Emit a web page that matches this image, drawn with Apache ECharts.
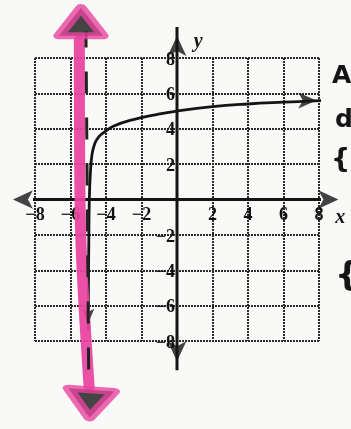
<!DOCTYPE html>
<html><head><meta charset="utf-8">
<script src="https://cdn.jsdelivr.net/npm/echarts@6/dist/echarts.min.js"></script>
<style>html,body{margin:0;padding:0;background:#f9f9f8;}#c{width:351px;height:429px;}</style>
</head><body><div id="c"></div>
<script>
// ---- data ----
const tickValues = [-8, -6, -4, -2, 0, 2, 4, 6, 8];
const curveX = [-5.0, -4.99, -4.97, -4.94, -4.88, -4.78, -4.62, -4.4, -4.15, -3.59, -2.46, -1.14, 0, 2, 4, 6, 8.3];
const curveY = [-7.4, -5, -2.5, 0, 1.5, 2.6, 3.2, 3.55, 3.77, 4.14, 4.52, 4.8, 5.0, 5.25, 5.4, 5.5, 5.6];
const asymptoteX = [-5.13, -4.97];
const asymptoteY = [9.5, -10.6];
const highlightX = [-5.5, -5.45, -4.95];
const highlightY = [9.0, -1, -10.6];
const highlightHeadX = [-5.41, -4.88];
const highlightHeadY = [10.05, -11.55];
const xAxisEnds = [-9.75, 9.6];
const yAxisEnds = [9.75, -9.65];
const axisNames = ['x', 'y'];
const sideNotes = ['A', 'd', '{', '{'];

const fmt = v => String(v).replace('-', '\u2212');
const chart = echarts.init(document.getElementById('c'));
const ink = '#151515';
const pink = '#e8449f';
const lblFont = {fontFamily: 'Liberation Serif', fontSize: 18, color: '#111', fontWeight: 'bold',
                 textBorderWidth: 0, textShadowBlur: 0, opacity: 1};
const nonZero = tickValues.filter(v => v !== 0);
const hidden = {color: 'rgba(0,0,0,0)'};

chart.setOption({
  animation: false,
  backgroundColor: '#f9f9f8',
  grid: {left: 35, right: 32, top: 58, bottom: 88},
  xAxis: {
    type: 'value', min: tickValues[0], max: tickValues[tickValues.length - 1], interval: 2,
    axisLine: {show: false}, axisTick: {show: false}, axisLabel: {show: false},
    splitLine: {show: true, lineStyle: {color: '#2b2b2b', width: 2, type: [2, 1]}}
  },
  yAxis: {
    type: 'value', min: tickValues[0], max: tickValues[tickValues.length - 1], interval: 2,
    axisLine: {show: false}, axisTick: {show: false}, axisLabel: {show: false},
    splitLine: {show: true, lineStyle: {color: '#2b2b2b', width: 2, type: [2, 1]}}
  },
  graphic: [
    {type: 'text', left: 332, top: 64, style: {text: sideNotes[0], font: 'bold 25px "DejaVu Sans"', fill: ink}},
    {type: 'text', left: 335, top: 108, style: {text: sideNotes[1], font: 'bold 25px "DejaVu Sans"', fill: ink}},
    {type: 'text', left: 331, top: 146, style: {text: sideNotes[2], font: 'bold 27px "DejaVu Sans"', fill: ink}},
    {type: 'text', left: 335, top: 260, style: {text: sideNotes[3], font: 'bold 34px "DejaVu Sans"', fill: ink}}
  ],
  series: [
    {type: 'line', name: 'x axis', clip: false, silent: true, symbol: 'none', z: 3,
     lineStyle: {color: ink, width: 3}, data: [[xAxisEnds[0], 0], [xAxisEnds[1], 0]]},
    {type: 'line', name: 'y axis', clip: false, silent: true, symbol: 'none', z: 3,
     lineStyle: {color: ink, width: 3}, data: [[0, yAxisEnds[0]], [0, yAxisEnds[1]]]},
    {type: 'scatter', name: 'axis arrows', clip: false, silent: true, z: 4,
     symbol: 'arrow', symbolSize: [14, 20], itemStyle: {color: ink},
     data: [
       {value: [xAxisEnds[0], 0], symbolRotate: 90, symbolOffset: [9, 0]},
       {value: [xAxisEnds[1], 0], symbolRotate: -90, symbolOffset: [-9, 0]},
       {value: [0, yAxisEnds[0]], symbolRotate: 0, symbolOffset: [0, 9]},
       {value: [0, yAxisEnds[1]], symbolRotate: 180, symbolOffset: [0, -9]}
     ]},
    {type: 'scatter', name: 'x tick labels', clip: false, silent: true, z: 4, symbolSize: 2, itemStyle: hidden,
     label: Object.assign({show: true, position: 'bottom', distance: 6, formatter: p => fmt(p.value[0])}, lblFont),
     data: nonZero.map(v => [v, 0])},
    {type: 'scatter', name: 'y tick labels', clip: false, silent: true, z: 4, symbolSize: 2, itemStyle: hidden,
     label: Object.assign({show: true, position: 'left', distance: 1, offset: [0, 2], formatter: p => fmt(p.value[1])}, lblFont),
     data: nonZero.map(v => [0, v])},
    {type: 'line', name: 'curve', clip: false, silent: true, symbol: 'none', z: 5,
     smooth: 0.45,
     lineStyle: {color: ink, width: 2.8},
     data: curveX.map((x, i) => [x, curveY[i]])},
    {type: 'scatter', name: 'curve arrows', clip: false, silent: true, z: 5,
     symbol: 'arrow', itemStyle: {color: ink},
     data: [
       {value: [curveX[curveX.length - 1], curveY[curveY.length - 1]], symbolSize: [12, 18], symbolRotate: -90, symbolOffset: [-8, 0]},
       {value: [curveX[0], curveY[0]], symbolSize: [9, 15], symbolRotate: 180, symbolOffset: [0, -7]}
     ]},
    {type: 'line', name: 'highlight', clip: false, silent: true, symbol: 'none', z: 6,
     smooth: 0.3,
     lineStyle: {color: pink, width: 11, opacity: 0.93, cap: 'round'},
     data: highlightX.map((x, i) => [x, highlightY[i]])},
    {type: 'line', name: 'asymptote', clip: false, silent: true, symbol: 'none', z: 7,
     lineStyle: {color: '#222', width: 3, type: [22, 24], dashOffset: 6},
     data: asymptoteX.map((x, i) => [x, asymptoteY[i]])},
    {type: 'scatter', name: 'highlight heads', clip: false, silent: true, z: 8,
     symbol: 'triangle',
     itemStyle: {color: '#161616', borderColor: pink, borderWidth: 9, borderJoin: 'round'},
     data: [
       {value: [highlightHeadX[0], highlightHeadY[0]], symbolSize: [44, 28], symbolRotate: 0},
       {value: [highlightHeadX[1], highlightHeadY[1]], symbolSize: [46, 28], symbolRotate: 176}
     ]},
    {type: 'scatter', name: 'axis names', clip: false, silent: true, z: 9,
     symbolSize: 2, itemStyle: hidden,
     label: {show: true, position: 'inside', formatter: p => p.name,
             fontFamily: 'Liberation Serif', fontStyle: 'italic', fontWeight: 'bold', fontSize: 20, color: ink,
             textBorderWidth: 0, opacity: 1},
     data: [
       {name: axisNames[0], value: [9.2, -1.05]},
       {name: axisNames[1], value: [1.2, 8.9]}
     ]}
  ]
});
</script>
</body></html>
